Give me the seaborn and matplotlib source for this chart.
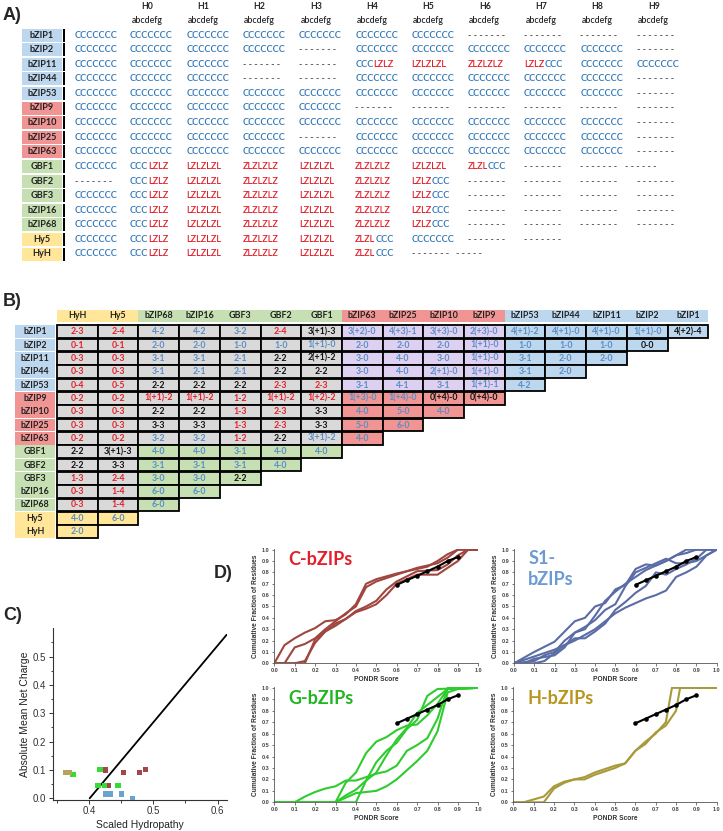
import numpy as np
import pandas as pd
import seaborn as sns
import matplotlib.pyplot as plt
from matplotlib.patches import Rectangle

sns.set_style("ticks")
plt.rcParams['font.family'] = ['Lato', 'DejaVu Sans']

# ---------------- data ----------------
genes = ['bZIP1', 'bZIP2', 'bZIP11', 'bZIP44', 'bZIP53',
         'bZIP9', 'bZIP10', 'bZIP25', 'bZIP63',
         'GBF1', 'GBF2', 'GBF3', 'bZIP16', 'bZIP68',
         'Hy5', 'HyH']
gene_groups = ['S1'] * 5 + ['C'] * 4 + ['G'] * 5 + ['H'] * 2

# panel A: heptad assignments (first column has no header)
heptads = ['', 'H0', 'H1', 'H2', 'H3', 'H4', 'H5', 'H6', 'H7', 'H8', 'H9']
C7 = 'CCCCCCC'
D7 = '-------'
LZ_A = 'CCCLZLZ'
LZ_B = 'LZLZLZL'
LZ_C = 'ZLZLZLZ'
heptad_calls = [
    [C7, C7, C7, C7, C7, C7, C7, D7, D7, D7, D7],
    [C7, C7, C7, C7, D7, C7, C7, C7, C7, C7, D7],
    [C7, C7, C7, D7, D7, LZ_A, LZ_B, LZ_C, 'LZLZCCC', C7, C7],
    [C7, C7, C7, D7, D7, C7, C7, C7, C7, C7, D7],
    [C7, C7, C7, C7, C7, C7, C7, C7, C7, C7, D7],
    [C7, C7, C7, C7, C7, D7, D7, D7, D7, D7, D7],
    [C7, C7, C7, C7, C7, C7, C7, C7, C7, C7, D7],
    [C7, C7, C7, C7, D7, C7, C7, C7, C7, C7, D7],
    [C7, C7, C7, C7, C7, C7, C7, C7, C7, C7, D7],
    [C7, LZ_A, LZ_B, LZ_C, LZ_B, LZ_C, LZ_B, 'ZLZLCCC', D7, D7, '------'],
    [D7, LZ_A, LZ_B, LZ_C, LZ_B, LZ_C, 'LZLZCCC', D7, D7, D7, D7],
    [C7, LZ_A, LZ_B, LZ_C, LZ_B, LZ_C, 'LZLZCCC', D7, D7, D7, D7],
    [C7, LZ_A, LZ_B, LZ_C, LZ_B, LZ_C, 'LZLZCCC', D7, D7, D7, D7],
    [C7, LZ_A, LZ_B, LZ_C, LZ_B, LZ_C, 'LZLZCCC', D7, D7, D7, D7],
    [C7, LZ_A, LZ_B, LZ_C, LZ_B, 'ZLZLCCC', C7, D7, D7, '', ''],
    [C7, LZ_A, LZ_B, LZ_C, LZ_B, 'ZLZLCCC', D7, '-----', '', '', ''],
]

# panel B: pairwise interaction table (columns are genes reversed)
pair_cols = genes[::-1]
pair_values = [
    ['2-3', '2-4', '4-2', '4-2', '3-2', '2-4', '3(+1)-3', '3(+2)-0', '4(+3)-1', '3(+3)-0',
     '2(+3)-0', '4(+1)-2', '4(+1)-0', '4(+1)-0', '1(+1)-0', '4(+2)-4'],
    ['0-1', '0-1', '2-0', '2-0', '1-0', '1-0', '1(+1)-0', '2-0', '2-0', '2-0', '1(+1)-0',
     '1-0', '1-0', '1-0', '0-0'],
    ['0-3', '0-3', '3-1', '3-1', '2-1', '2-2', '2(+1)-2', '3-0', '4-0', '3-0', '1(+1)-0',
     '3-1', '2-0', '2-0'],
    ['0-3', '0-3', '3-1', '2-1', '2-1', '2-2', '2-2', '3-0', '4-0', '2(+1)-0', '1(+1)-0',
     '3-1', '2-0'],
    ['0-4', '0-5', '2-2', '2-2', '2-2', '2-3', '2-3', '3-1', '4-1', '3-1', '1(+1)-1', '4-2'],
    ['0-2', '0-2', '1(+1)-2', '1(+1)-2', '1-2', '1(+1)-2', '1(+2)-2', '1(+3)-0', '1(+4)-0',
     '0(+4)-0', '0(+4)-0'],
    ['0-3', '0-3', '2-2', '2-2', '1-3', '2-3', '3-3', '4-0', '5-0', '4-0'],
    ['0-3', '0-3', '3-3', '3-3', '1-3', '2-3', '3-3', '5-0', '6-0'],
    ['0-2', '0-2', '3-2', '3-2', '1-2', '2-2', '3(+1)-2', '4-0'],
    ['2-2', '3(+1)-3', '4-0', '4-0', '3-1', '4-0', '4-0'],
    ['2-2', '3-3', '3-1', '3-1', '3-1', '4-0'],
    ['1-3', '2-4', '3-0', '3-0', '2-2'],
    ['0-3', '1-4', '6-0', '6-0'],
    ['0-3', '1-4', '6-0'],
    ['4-0', '6-0'],
    ['2-0'],
]
pair_text_codes = [
    'rrbbbrkbbbbbbbbk', 'rrbbbbbbbbbbbbk', 'rrbbbkkbbbbbbb', 'rrbbbkkbbbbbb',
    'rrkkkrrbbbbb', 'rrrrrrrbbkk', 'rrkkrrkbbb', 'rrkkrrkbb', 'rrbbrkbb',
    'kkbbbbb', 'kkbbbb', 'rrbbk', 'rrbb', 'rrb', 'bb', 'b',
]

# panel C: charge-hydropathy plot
hydro_C = [0.426, 0.430, 0.453, 0.478, 0.488]
charge_C = [0.100, 0.045, 0.090, 0.090, 0.102]
hydro_S1 = [0.426, 0.433, 0.451, 0.467]
charge_S1 = [0.015, 0.015, 0.015, 0.000]
hydro_G = [0.375, 0.417, 0.414, 0.424, 0.445]
charge_G = [0.085, 0.103, 0.044, 0.044, 0.044]
hydro_H = [0.363, 0.370]
charge_H = [0.090, 0.090]
boundary_h = [0.401, 0.614]
boundary_r = [0.0, 0.577]

# panel D: cumulative distribution of PONDR scores
ref_x = [0.60, 0.65, 0.70, 0.75, 0.80, 0.85, 0.90]
ref_y = [0.69, 0.73, 0.77, 0.81, 0.85, 0.90, 0.935]

c_curves = [
    ([0, .05, .1, .15, .2, .25, .3, .35, .4, .45, .5, .6, .7, .75, .8, .85, .9, 1],
     [0, .16, .22, .27, .31, .37, .38, .43, .52, .70, .74, .79, .83, .85, .90, .96, 1, 1]),
    ([0, .05, .1, .15, .2, .25, .3, .35, .4, .45, .5, .6, .7, .8, .85, .9, 1],
     [0, 0, .14, .17, .22, .30, .37, .44, .50, .67, .72, .78, .84, .88, .93, 1, 1]),
    ([0, .1, .15, .2, .25, .3, .35, .4, .45, .5, .55, .6, .7, .8, .85, .9, .95, 1],
     [0, 0, .02, .18, .28, .35, .39, .45, .48, .52, .60, .70, .78, .78, .84, .90, 1, 1]),
    ([0, .15, .2, .25, .3, .35, .4, .45, .5, .55, .6, .7, .8, .85, .9, .95, 1],
     [0, 0, .21, .28, .33, .39, .46, .50, .55, .65, .72, .81, .82, .87, .95, 1, 1]),
]
s1_curves = [
    ([0, .05, .1, .15, .2, .3, .4, .45, .5, .55, .6, .65, .7, .75, .8, .85, .9, .95, 1],
     [0, .03, .06, .09, .12, .20, .30, .37, .44, .49, .53, .57, .60, .64, .76, .80, .85, .95, 1]),
    ([0, .05, .1, .2, .3, .35, .4, .45, .5, .55, .6, .65, .7, .75, .8, .85, 1],
     [0, .05, .10, .19, .37, .40, .50, .53, .65, .69, .83, .87, .86, .90, .95, 1, 1]),
    ([0, .1, .15, .2, .25, .3, .35, .4, .45, .5, .55, .6, .65, .7, .75, .8, .85, .9, .95, 1],
     [0, .02, .07, .10, .20, .27, .32, .38, .47, .52, .68, .80, .84, .88, .92, .88, .88, .90, .95, 1]),
    ([0, .1, .15, .2, .25, .3, .35, .4, .45, .5, .55, .6, .65, .7, .75, .8, .85, .9, .95, 1],
     [0, 0, .02, .09, .16, .22, .22, .28, .35, .47, .54, .62, .68, .80, .78, .83, .87, .92, 1, 1]),
    ([0, .05, .1, .2, .25, .3, .35, .4, .45, .5, .55, .6, .65, .7, .75, .8, .85, .9, 1],
     [0, 0, .04, .07, .14, .27, .30, .42, .55, .63, .70, .76, .82, .86, .90, .95, .97, 1, 1]),
]
g_curves = [
    ([0, .1, .15, .2, .25, .3, .35, .4, .45, .5, .55, .6, .65, .7, .75, .8, .85, 1],
     [0, 0, .05, .09, .12, .14, .19, .19, .22, .25, .27, .32, .45, .50, .56, .73, 1, 1]),
    ([0, .3, .35, .4, .45, .5, .55, .6, .65, .7, .75, .8, .85, 1],
     [0, 0, .17, .26, .43, .53, .57, .63, .67, .68, .76, .86, .99, 1]),
    ([0, .3, .4, .45, .5, .55, .6, .65, .7, .75, .8, .85, .9, 1],
     [0, 0, .08, .09, .10, .14, .20, .28, .36, .45, .62, .96, .99, 1]),
    ([0, .3, .35, .4, .45, .5, .55, .6, .65, .7, .75, .8, .85, 1],
     [0, 0, .06, .11, .19, .26, .41, .55, .65, .78, .85, .92, .99, 1]),
    ([0, .4, .45, .5, .55, .6, .65, .7, .75, .8, 1],
     [0, 0, .19, .35, .45, .52, .64, .72, .93, .99, 1]),
]
h_curves = [
    ([0, .05, .15, .2, .25, .3, .35, .4, .45, .5, .55, .6, .65, .7, .75, .78, 1],
     [0, 0, .05, .14, .18, .20, .22, .26, .29, .32, .34, .45, .53, .60, .70, 1, 1]),
    ([0, .15, .2, .25, .3, .35, .4, .45, .5, .55, .6, .65, .7, .75, .8, .82, 1],
     [0, 0, .12, .17, .20, .20, .24, .27, .30, .34, .45, .51, .61, .67, .80, 1, 1]),
]

# ---------------- style ----------------
group_fill = {'S1': '#BDD7EE', 'C': '#F09494', 'G': '#C6E0B4', 'H': '#FFE699'}
pair_gray = '#D9D9D9'
pair_purple = '#DDD0F0'
txt_col = {'r': '#E3202A', 'b': '#5B8DC6', 'k': '#111111'}
hep_blue = '#2E75B6'
hep_red = '#E3202A'
hep_dash = '#444444'

W, H = 723, 831
fig = plt.figure(figsize=(W / 100, H / 100), dpi=100)
bg = fig.add_axes([0, 0, 1, 1])
bg.set_xlim(0, W)
bg.set_ylim(H, 0)
bg.axis('off')


def px_axes(l, t, r, b):
    return fig.add_axes([l / W, 1 - b / H, (r - l) / W, (b - t) / H])


# panel letters
for lab, x, y in [('A)', 3, 15), ('B)', 3, 302), ('C)', 3, 616), ('D)', 214, 573)]:
    bg.text(x, y, lab, fontsize=13, fontweight='bold', va='center', ha='left',
            family=['Liberation Sans', 'DejaVu Sans'])

# ---------------- panel A ----------------
a_y0, a_dy = 35.0, 14.6
a_cols = [92.0] + [147.0 + 56.3 * i for i in range(10)]

for i, h in enumerate(heptads):
    if h:
        bg.text(a_cols[i], 6.5, h, ha='center', va='center', fontsize=6.3, fontweight='bold')
        bg.text(a_cols[i], 20.5, 'abcdefg', ha='center', va='center', fontsize=6.3,
                fontweight='semibold')


def hep_color(ch):
    if ch == 'C':
        return hep_blue
    if ch in 'LZ':
        return hep_red
    return hep_dash


def draw_call(x, y, s):
    runs = []
    for ch in s:
        c = hep_color(ch)
        if runs and runs[-1][1] == c:
            runs[-1][0] += ch
        else:
            runs.append([ch, c])
    prev = None
    for chunk, c in runs:
        txt = ' '.join(chunk) if chunk[0] == '-' else chunk
        kw = dict(color=c, fontsize=6.6, va='center', ha='left', fontweight='semibold')
        if prev is None:
            prev = bg.text(x, y, txt, **kw)
        else:
            prev = bg.annotate(txt, xy=(1, 0.5), xycoords=prev, **kw)


for r, (g, grp) in enumerate(zip(genes, gene_groups)):
    y = a_y0 + r * a_dy
    bg.add_patch(Rectangle((22, y - 6.5), 40, 13, fc=group_fill[grp], ec='none'))
    bg.add_patch(Rectangle((62.5, y - 6.5), 2, 13, fc='black', ec='none'))
    bg.text(42, y, g, ha='center', va='center', fontsize=6.6, fontweight='bold', color='#222')
    for c, s in enumerate(heptad_calls[r]):
        if s:
            shift = -12 if len(s) < 7 else 0
            draw_call(a_cols[c] - 17 + shift, y, s)

# ---------------- panel B ----------------
b_x0, b_dx = 57.0, 40.7
b_head_y = 316.0
b_y0, b_dy = 331.7, 13.33
b_h = 12.6

for j, g in enumerate(pair_cols):
    grp = gene_groups[genes.index(g)]
    bg.add_patch(Rectangle((b_x0 + j * b_dx, b_head_y - b_h / 2), b_dx, b_h,
                           fc=group_fill[grp], ec='none'))
    bg.text(b_x0 + (j + 0.5) * b_dx, b_head_y, g, ha='center', va='center',
            fontsize=6.4, fontweight='bold', color='#222')

for r, (g, grp) in enumerate(zip(genes, gene_groups)):
    y = b_y0 + r * b_dy
    bg.add_patch(Rectangle((15, y - b_h / 2), 40, b_h, fc=group_fill[grp], ec='none'))
    bg.text(35, y, g, ha='center', va='center', fontsize=6.4, fontweight='bold', color='#222')
    for j, val in enumerate(pair_values[r]):
        cgrp = gene_groups[genes.index(pair_cols[j])]
        if cgrp == grp:
            fc = group_fill[grp]
        elif grp == 'S1' and cgrp == 'C':
            fc = pair_purple
        else:
            fc = pair_gray
        bg.add_patch(Rectangle((b_x0 + j * b_dx, y - b_h / 2), b_dx, b_h,
                               fc=fc, ec='black', lw=1.3))
        bg.text(b_x0 + (j + 0.5) * b_dx, y, val, ha='center', va='center', fontsize=6.3,
                fontweight='bold', color=txt_col[pair_text_codes[r][j]])

# ---------------- panel C ----------------
arial = ['Liberation Sans', 'DejaVu Sans']
axc = px_axes(52.7, 628, 227, 800)
df_c = pd.DataFrame({
    'hydropathy': hydro_C + hydro_S1 + hydro_G + hydro_H,
    'charge': charge_C + charge_S1 + charge_G + charge_H,
    'group': ['C'] * len(hydro_C) + ['S1'] * len(hydro_S1) + ['G'] * len(hydro_G)
             + ['H'] * len(hydro_H),
})
sns.lineplot(x=boundary_h, y=boundary_r, color='black', lw=1.3, ax=axc)
sns.scatterplot(data=df_c, x='hydropathy', y='charge', hue='group', marker='s', s=14,
                linewidth=0, legend=False, ax=axc, zorder=3,
                palette={'C': '#A2474A', 'S1': '#6BA3CF', 'G': '#33DD33', 'H': '#B9A35C'})
axc.set_xlim(0.3435, 0.6146)
axc.set_ylim(-0.006, 0.601)
axc.set_xticks([0.4, 0.5, 0.6])
axc.set_yticks([0.0, 0.1, 0.2, 0.3, 0.4, 0.5])
axc.set_xticks([0.35, 0.45, 0.55], minor=True)
axc.set_yticks([0.05, 0.15, 0.25, 0.35, 0.45, 0.55], minor=True)
axc.tick_params(labelsize=7, length=3, width=0.7, colors='#333', pad=1.5)
axc.tick_params(which='minor', length=1.8, width=0.6)
for lab in axc.get_xticklabels() + axc.get_yticklabels():
    lab.set_family(arial)
axc.set_xlabel('Scaled Hydropathy', fontsize=7.5, family=arial, color='#222', labelpad=3)
axc.set_ylabel('Absolute Mean Net Charge', fontsize=7.5, family=arial, color='#222', labelpad=2)
sns.despine(ax=axc)
for sp in axc.spines.values():
    sp.set_linewidth(0.8)
    sp.set_color('#333')

# ---------------- panel D ----------------
d_specs = [
    (c_curves, '#A0453F', 'C-bZIPs', '#E3202A', (274.3, 548.5, 478.3, 663.3)),
    (s1_curves, '#5A6CA6', 'S1-\nbZIPs', '#6B9BD2', (514.0, 548.5, 716.7, 663.3)),
    (g_curves, '#2ECC2E', 'G-bZIPs', '#22B522', (274.3, 686.7, 478.3, 802.3)),
    (h_curves, '#A89A3A', 'H-bZIPs', '#B8961E', (513.3, 686.7, 716.7, 802.3)),
]
for curves, lc, title, tc, box in d_specs:
    ax = px_axes(*box)
    rows = []
    for k, (xs, ys) in enumerate(curves):
        for xv, yv in zip(xs, ys):
            rows.append((k, xv, yv))
    df_d = pd.DataFrame(rows, columns=['curve', 'score', 'frac'])
    sns.lineplot(data=df_d, x='score', y='frac', units='curve', estimator=None, sort=False,
                 color=lc, lw=1.5, ax=ax)
    sns.lineplot(x=ref_x, y=ref_y, color='black', lw=1.5, marker='o', markersize=3.3,
                 markeredgewidth=0, ax=ax)
    ax.set_xlim(0, 1)
    ax.set_ylim(0, 1.01)
    ticks = np.round(np.arange(0, 1.01, 0.1), 1)
    ax.set_xticks(ticks)
    ax.set_yticks(ticks)
    ax.set_xticklabels([f'{t:.1f}' for t in ticks])
    ax.set_yticklabels([f'{t:.1f}' for t in ticks])
    ax.tick_params(labelsize=4, length=1.8, width=0.5, colors='#444', pad=1.5)
    for lab in ax.get_xticklabels() + ax.get_yticklabels():
        lab.set_family(arial)
        lab.set_fontweight('bold')
    ax.set_xlabel('PONDR Score', fontsize=4.8, fontweight='bold', family=arial,
                  color='#333', labelpad=2)
    ax.set_ylabel('Cumulative Fraction of Residues', fontsize=4.8, fontweight='bold',
                  family=arial, color='#333', labelpad=2)
    sns.despine(ax=ax)
    for sp in ax.spines.values():
        sp.set_linewidth(0.6)
        sp.set_color('#555')
    ax.text(0.07, 0.99 if '\n' in title else 0.90, title, color=tc, fontsize=13,
            fontweight='bold', va='top' if '\n' in title else 'center', ha='left',
            transform=ax.transAxes, linespacing=1.3)

fig.savefig('out.png', dpi=100, facecolor='white')
